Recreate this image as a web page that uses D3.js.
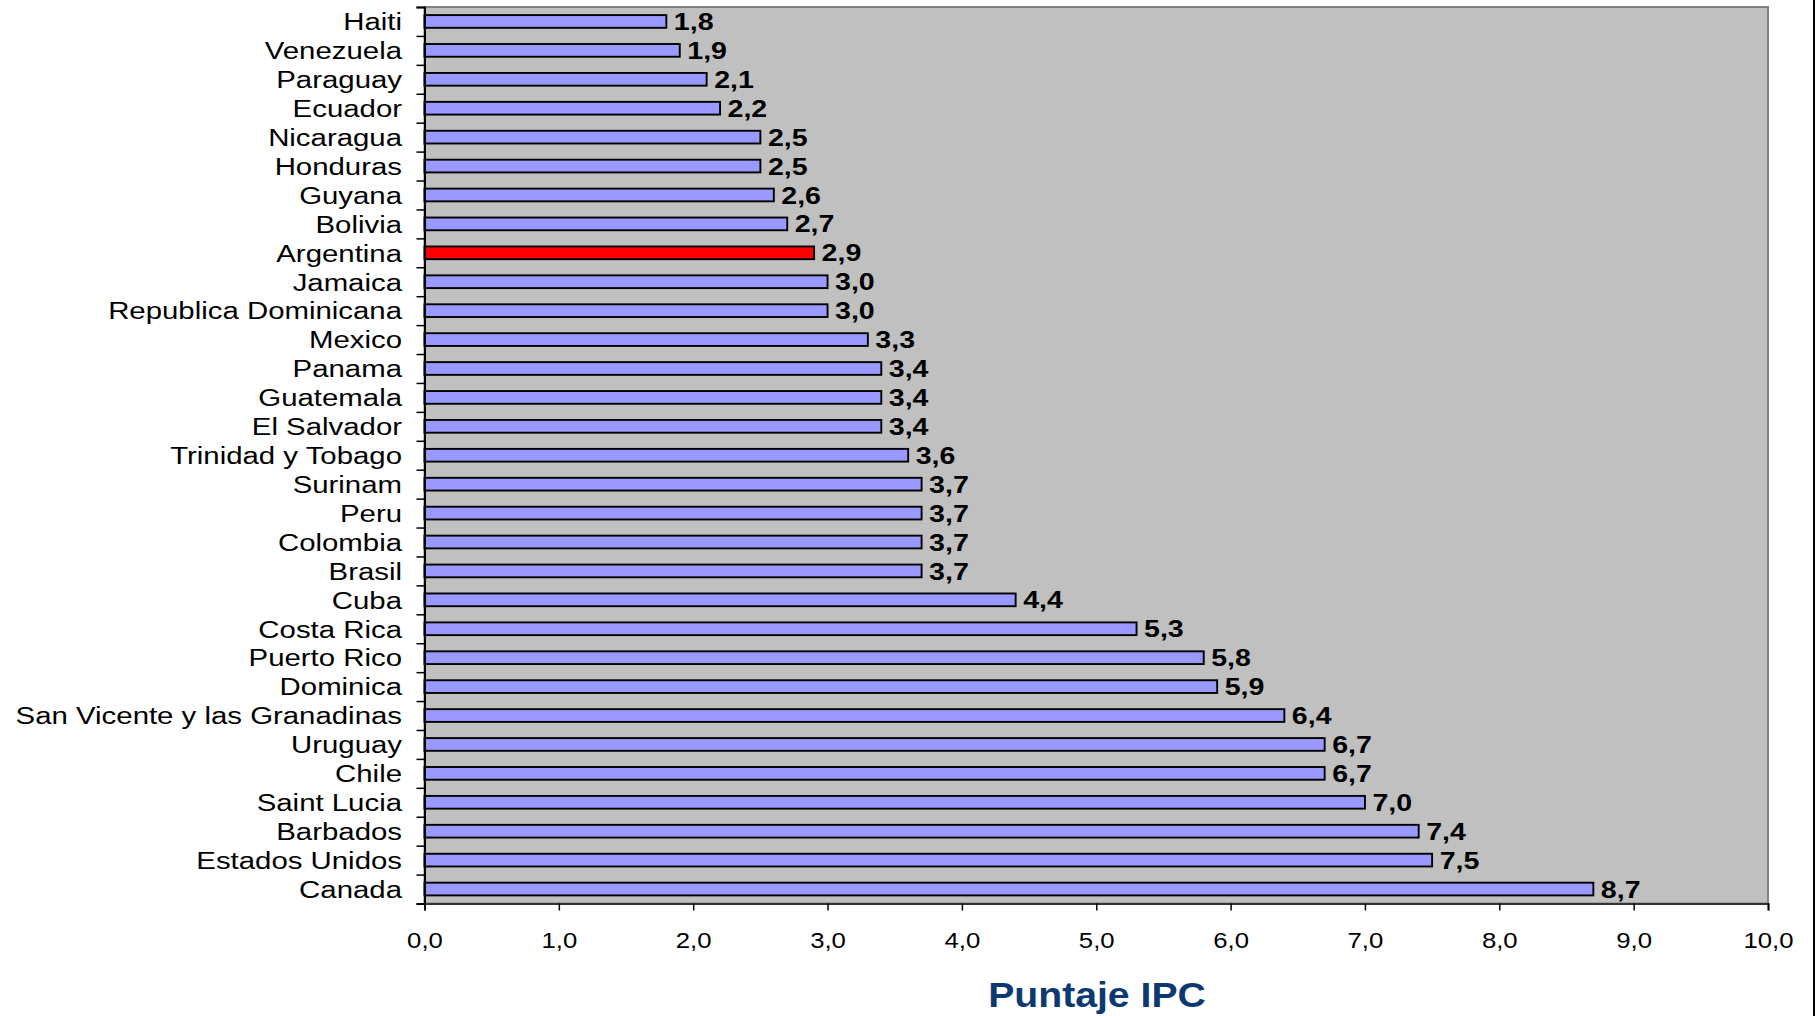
<!DOCTYPE html>
<html lang="es">
  <head>
    <meta charset="UTF-8" />
    <title>Puntaje IPC</title>
    <script src="https://cdn.jsdelivr.net/npm/d3@7"></script>
    <style>
      body { margin: 0; background: #fff; }
      svg { display: block; }
    </style>
  </head>
  <body>
    <div id="wrapper"></div>
    <script>
      const countries = [
        "Haiti", "Venezuela", "Paraguay", "Ecuador", "Nicaragua", "Honduras",
        "Guyana", "Bolivia", "Argentina", "Jamaica", "Republica Dominicana",
        "Mexico", "Panama", "Guatemala", "El Salvador", "Trinidad y Tobago",
        "Surinam", "Peru", "Colombia", "Brasil", "Cuba", "Costa Rica",
        "Puerto Rico", "Dominica", "San Vicente y las Granadinas", "Uruguay",
        "Chile", "Saint Lucia", "Barbados", "Estados Unidos", "Canada",
      ];
      const scores = [
        1.8, 1.9, 2.1, 2.2, 2.5, 2.5, 2.6, 2.7, 2.9, 3.0, 3.0, 3.3, 3.4, 3.4,
        3.4, 3.6, 3.7, 3.7, 3.7, 3.7, 4.4, 5.3, 5.8, 5.9, 6.4, 6.7, 6.7, 7.0,
        7.4, 7.5, 8.7,
      ];
      const xTicks = [0, 1, 2, 3, 4, 5, 6, 7, 8, 9, 10];
      const highlight = "Argentina";
      const axisTitle = "Puntaje IPC";

      const data = countries.map((c, i) => ({ country: c, score: scores[i] }));

      let dimensions = {
        width: 1819,
        height: 1016,
        margin: { top: 7, right: 51, bottom: 112.5, left: 424.5 },
      };
      dimensions.boundedWidth =
        dimensions.width - dimensions.margin.left - dimensions.margin.right;
      dimensions.boundedHeight =
        dimensions.height - dimensions.margin.top - dimensions.margin.bottom;

      // the source picture is stretched sideways, so text is widened a bit
      const stretch = "scale(1.19,1)";
      const fmt = (v) => d3.format(".1f")(v).replace(".", ",");

      const svg = d3
        .select("#wrapper")
        .append("svg")
        .attr("width", dimensions.width)
        .attr("height", dimensions.height)
        .style("font-family", "'Liberation Sans', Arial, sans-serif");

      // outer chart border (only the right edge is visible)
      svg
        .append("line")
        .attr("x1", 1814).attr("x2", 1814)
        .attr("y1", 0).attr("y2", dimensions.height)
        .attr("stroke", "#000")
        .attr("stroke-width", 2);

      const bounds = svg
        .append("g")
        .attr("transform", `translate(${dimensions.margin.left},${dimensions.margin.top})`);

      const xScale = d3.scaleLinear().domain([0, 10]).range([0, dimensions.boundedWidth]);
      const yScale = d3
        .scaleBand()
        .domain(countries)
        .range([0, dimensions.boundedHeight])
        .paddingInner(0.56)
        .paddingOuter(0.28);
      const yIndex = d3.scaleLinear().domain([0, countries.length]).range([0, dimensions.boundedHeight]);

      bounds
        .append("rect")
        .attr("width", dimensions.boundedWidth)
        .attr("height", dimensions.boundedHeight)
        .attr("fill", "#c0c0c0")
        .attr("stroke", "#808080")
        .attr("stroke-width", 2);

      bounds
        .selectAll(".bar")
        .data(data)
        .join("rect")
        .attr("class", "bar")
        .attr("x", 0)
        .attr("y", (d) => yScale(d.country))
        .attr("width", (d) => xScale(d.score))
        .attr("height", yScale.bandwidth())
        .attr("fill", (d) => (d.country === highlight ? "#ff0000" : "#9999ff"))
        .attr("stroke", "#000")
        .attr("stroke-width", 1.9);

      bounds
        .selectAll(".value")
        .data(data)
        .join("text")
        .attr("class", "value")
        .attr("transform", (d) =>
          `translate(${xScale(d.score) + 7.5},${yScale(d.country) + yScale.bandwidth() / 2 + 8.6}) ${stretch}`)
        .attr("font-size", 24)
        .attr("font-weight", "bold")
        .attr("fill", "#000")
        .text((d) => fmt(d.score));

      // category boundary ticks
      const yTickAxis = bounds
        .append("g")
        .call(d3.axisLeft(yIndex).tickValues(d3.range(countries.length + 1)).tickSize(8).tickFormat(""));
      yTickAxis.select(".domain").attr("stroke", "#000").attr("stroke-width", 2);
      yTickAxis.selectAll(".tick line").attr("stroke", "#000").attr("stroke-width", 1.5);

      // category labels
      const yAxis = bounds.append("g").call(d3.axisLeft(yScale).tickSize(0));
      yAxis.select(".domain").remove();
      yAxis
        .selectAll(".tick text")
        .attr("x", null)
        .attr("dy", null)
        .attr("transform", `translate(-22.5,8.8) ${stretch}`)
        .attr("font-size", 24.7)
        .attr("fill", "#000")
        .attr("text-anchor", "end");

      const xAxis = bounds
        .append("g")
        .attr("transform", `translate(0,${dimensions.boundedHeight})`)
        .call(d3.axisBottom(xScale).tickValues(xTicks).tickSize(7).tickFormat(fmt));
      xAxis.select(".domain").attr("stroke", "#333").attr("stroke-width", 2);
      xAxis.selectAll(".tick line").attr("stroke", "#000").attr("stroke-width", 1.5);
      xAxis
        .selectAll(".tick text")
        .attr("y", null)
        .attr("dy", null)
        .attr("transform", `translate(0,44) scale(1.12,1)`)
        .attr("font-size", 23)
        .attr("fill", "#000");

      svg
        .append("text")
        .attr("transform", `translate(1097,1007) scale(1.12,1)`)
        .attr("text-anchor", "middle")
        .attr("font-size", 35)
        .attr("font-weight", "bold")
        .attr("fill", "#0c3a70")
        .text(axisTitle);
    </script>
  </body>
</html>
